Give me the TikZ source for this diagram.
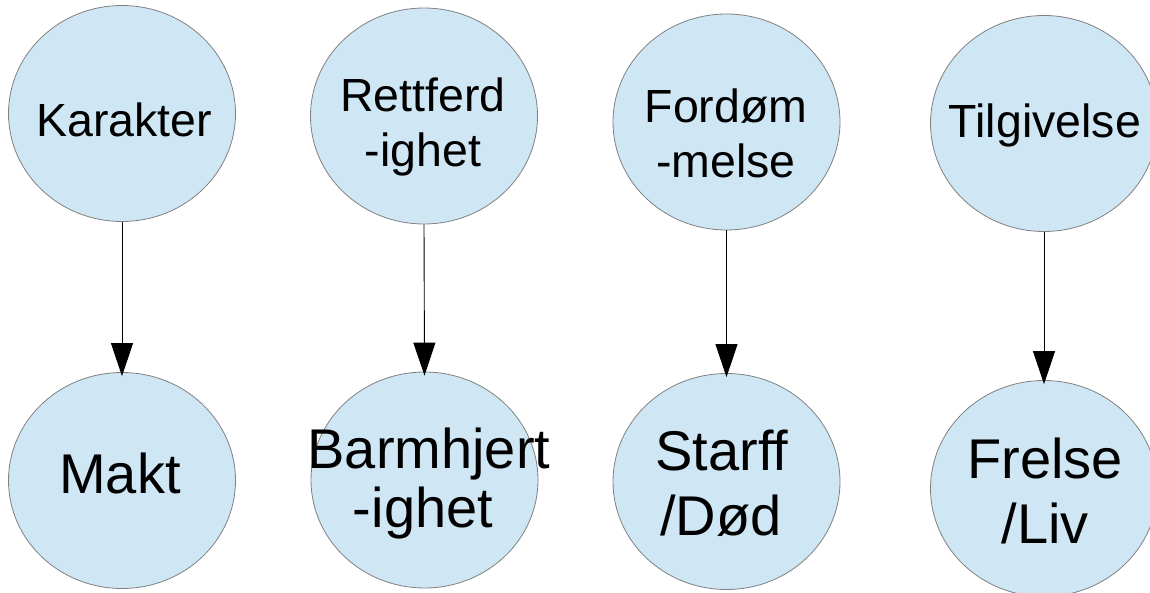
\documentclass[tikz,border=0pt]{standalone}
\usepackage{fontspec}
\setmainfont{Liberation Sans}
\usetikzlibrary{shapes.geometric,arrows.meta}
\definecolor{bubblefill}{RGB}{207,230,244}
\definecolor{bubbleline}{RGB}{128,128,128}
\tikzset{
  bubble/.style={ellipse, draw=bubbleline, fill=bubblefill, line width=0.8pt,
    minimum width=227pt, minimum height=216pt, inner sep=0pt},
  toptext/.style={anchor=base, inner sep=0pt, font=\fontsize{46.5}{55}\selectfont},
  bottext/.style={anchor=base, inner sep=0pt, font=\fontsize{56}{64}\selectfont},
  conn/.style={draw=black, line width=0.9pt, -{Triangle[length=33pt,width=22pt]}, shorten >=-4pt}
}
\begin{document}
\begin{tikzpicture}[x=1pt,y=-1pt]
\useasboundingbox (0,0) rectangle (1150,593);
% circles
\node[bubble] (a1) at (122,113.5) {};
\node[bubble] (b1) at (122,480.5) {};
\node[bubble] (a2) at (424,116) {};
\node[bubble] (b2) at (424.5,480) {};
\node[bubble] (a3) at (726.5,122) {};
\node[bubble] (b3) at (726.5,481.5) {};
\node[bubble] (a4) at (1044,123.5) {};
\node[bubble] (b4) at (1044,488.5) {};
% connectors
\draw[conn] (a1.south) -- (b1.north);
\draw[conn] (a2.south) -- (b2.north);
\draw[conn] (a3.south) -- (b3.north);
\draw[conn] (a4.south) -- (b4.north);
% texts
\node[toptext] (t1) at (124,137) {Karakter};
\node[toptext] (t2a) at (423,112) {Rettferd};
\node[toptext] (t2b) at (423,167) {-ighet};
\node[toptext] (t3a) at (726,123) {Fordøm};
\node[toptext] (t3b) at (726,178) {-melse};
\node[toptext] (t4) at (1045,138) {Tilgivelse};
\node[bottext] (u1) at (120,493) {Makt};
\node[bottext] (u2a) at (429,468) {Barmhjert};
\node[bottext] (u2b) at (423,527) {-ighet};
\node[bottext] (u3a) at (722,470) {Starff};
\node[bottext] (u3b) at (721,535) {/Død};
\node[bottext] (u4a) at (1045,478) {Frelse};
\node[bottext] (u4b) at (1045,543) {/Liv};
\end{tikzpicture}
\end{document}
